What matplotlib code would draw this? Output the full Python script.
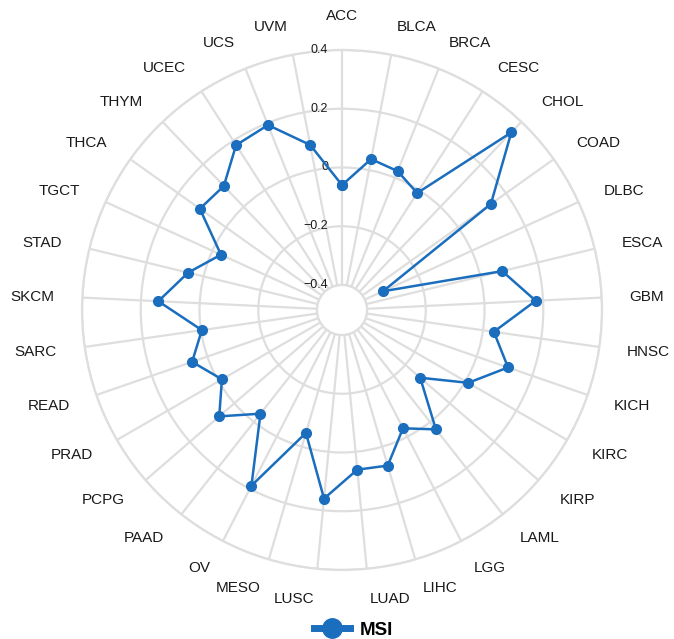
import numpy as np
import matplotlib
matplotlib.use("Agg")
import matplotlib.pyplot as plt
from matplotlib.lines import Line2D
from matplotlib.transforms import offset_copy

plt.rcParams['font.family'] = ['Liberation Sans', 'DejaVu Sans']

cancers = ['ACC', 'BLCA', 'BRCA', 'CESC', 'CHOL', 'COAD', 'DLBC', 'ESCA', 'GBM',
           'HNSC', 'KICH', 'KIRC', 'KIRP', 'LAML', 'LGG', 'LIHC', 'LUAD', 'LUSC',
           'MESO', 'OV', 'PAAD', 'PCPG', 'PRAD', 'READ', 'SARC', 'SKCM', 'STAD',
           'TGCT', 'THCA', 'THYM', 'UCEC', 'UCS', 'UVM']
msi = [-0.06, 0.038, 0.024, -0.012, 0.35, 0.137, -0.332, 0.076, 0.175,
       0.037, 0.113, 0.011, -0.133, 0.032, -0.032, 0.067, 0.061, 0.160,
       -0.049, 0.188, -0.036, 0.068, -0.013, 0.055, -0.003, 0.141, 0.054,
       -0.032, 0.109, 0.098, 0.182, 0.193, 0.087]
rticks = [-0.4, -0.2, 0, 0.2, 0.4]
rtick_labels = ['\u22120.4', '\u22120.2', '0', '0.2', '0.4']

grid_col = '#dedede'
line_col = '#1a6ebd'
text_col = '#1a1a1a'

fig = plt.figure(figsize=(6.74, 6.39), dpi=100)
ax = fig.add_axes([0.1217, 0.108, 0.7715, 0.8138], projection='polar')
ax.set_theta_zero_location('N')
ax.set_theta_direction(-1)

rmin, rmax = -0.4, 0.4
rorig = rmin - (rmax - rmin) * 25 / 235
ax.set_ylim(rmin, rmax)
ax.set_rorigin(rorig)

n = len(cancers)
theta = np.arange(n) * 2 * np.pi / n
ax.set_xticks(theta)
ax.set_xticklabels([])
ax.set_yticks(rticks)
ax.set_yticklabels([])
ax.tick_params(length=0)
ax.grid(True, color=grid_col, linewidth=1.6)
for s in ax.spines.values():
    s.set_color(grid_col)
    s.set_linewidth(1.6)

# closed loop
th = np.append(theta, theta[0])
vals = np.append(msi, msi[0])
ax.plot(th, vals, color=line_col, linewidth=1.8, marker='o',
        markersize=7, clip_on=False, zorder=5)

# category labels: anchored left/right of the spoke end, centered at the top
for t, name in zip(theta, cancers):
    s, c = np.sin(t), np.cos(t)
    if abs(s) < 0.01:
        ha, dx, dy = 'center', 0, 34 * np.sign(c)
    else:
        ha = 'left' if s > 0 else 'right'
        dx, dy = 28 * s, 29 * c - 1
    ax.annotate(name, xy=(t, rmax), xytext=(dx, dy), textcoords='offset pixels',
                ha=ha, va='center', fontsize=11, color=text_col,
                annotation_clip=False)

# radial tick labels along the ACC spoke
tr = offset_copy(ax.transData, fig=fig, x=-14, y=0, units='dots')
for v, lab in zip(rticks, rtick_labels):
    ax.text(0, v, lab, transform=tr, ha='right', va='center', fontsize=9,
            color=text_col)

h = Line2D([], [], color=line_col, linewidth=5, marker='o', markersize=14)
fig.legend(handles=[h], labels=['MSI'], loc='center', bbox_to_anchor=(0.524, 0.0135),
           frameon=False, prop={'weight': 'bold', 'size': 13.5},
           handlelength=1.95, handletextpad=0.5, borderpad=0.1)

fig.savefig('out.png', dpi=100)
